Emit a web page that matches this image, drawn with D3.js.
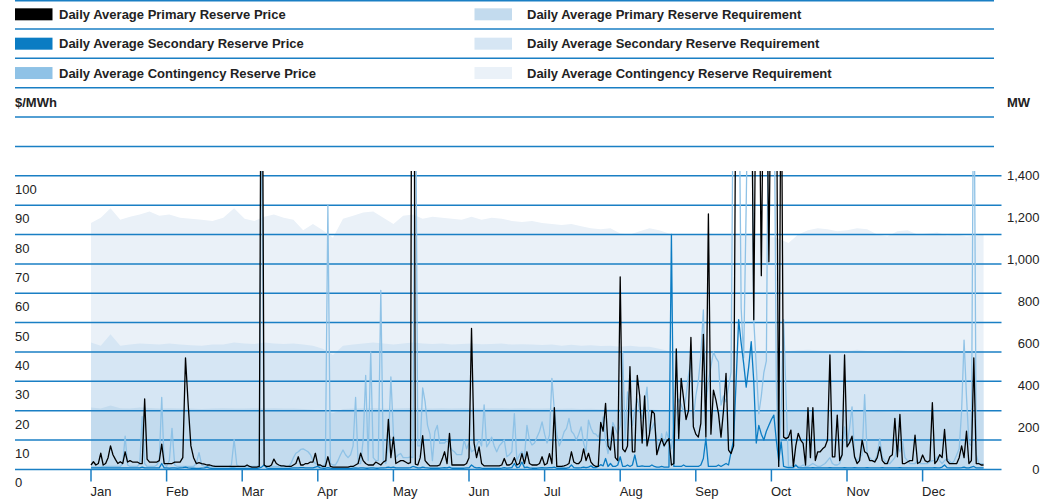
<!DOCTYPE html>
<html>
<head>
<meta charset="utf-8">
<script src="https://cdn.jsdelivr.net/npm/d3@7"></script>
<style>
  body { margin: 0; background: #fff; }
  svg text { font-family: "Liberation Sans", Arial, Helvetica, sans-serif; }
</style>
</head>
<body>
<svg id="chart" width="1062" height="502"></svg>
<script>
var blue = '#1a7fc4';
var black = '#000000';
var midblue = '#0b7cc3';
var lightblue = '#8fc2e6';
var reqDark = '#c3dbee';
var reqMid = '#d6e6f4';
var reqLight = '#eaf1f8';

var monthNames = ['Jan', 'Feb', 'Mar', 'Apr', 'May', 'Jun', 'Jul', 'Aug', 'Sep', 'Oct', 'Nov', 'Dec'];
var monthDays = [31, 28, 31, 30, 31, 30, 31, 31, 30, 31, 30, 31];
var priceTicks = [0, 10, 20, 30, 40, 50, 60, 70, 80, 90, 100];
var mwTicks = [0, 200, 400, 600, 800, 1000, 1200, 1400];

// daily prices, $/MWh, one row per month (Jan 1 - Dec 26)
var primaryPrice = [
  [1.5,2.6,1.5,2,5.5,1.5,2,4,8,5,3.4,2,2.6,2,6,2.5,3,2.5,2.5,2.5,2,2,24,3.5,2.5,2.5,2.5,2.5,3,8.6,2],
  [2,2,2,2.5,2.5,2.5,4,38,22,8,4,2,2.3,2,1.8,1.5,1.5,1.2,1,1,1,1,1,1,1,1,1,1],
  [1,1,1.5,1,0.8,0.8,0.8,1,200,1.5,1,1,1.5,3.5,2,1.5,1.2,1.2,1,1,1,1.5,2,4.3,1.5,1.5,2,2,2.5,2.5,5.5],
  [1.5,1.5,1,1,4.3,1,0.8,0.8,0.8,0.8,0.8,0.8,0.8,1,1,1.5,2,5.5,3,2,1.5,1.5,1.5,2.5,2,1.5,2.5,3,17,4],
  [11,2,2.5,3,3,2.5,2,2.3,300,1.8,1.5,4,11.5,3,2,1.2,1.2,1.2,1.2,1.5,3.5,6,2,12.3,1.5,1.5,1.5,1.5,1.5,1.5,2],
  [4,48,9,4,7.7,2,1.2,1.2,1.2,1.2,1.2,1.2,1.2,1.5,3.7,1.5,1.5,2,4,1.5,2,5.4,2,6,2,1.5,1.5,1.5,2,4.3],
  [1.5,2,5.4,2,21,1,1,1,1.2,1.5,2,6,2.5,2,2,3,7,3,5.5,2.5,1.5,1,1,16,13,22.5,8,6.6,14.5,4,3],
  [65.6,7,6,8,35,6,6,32,25,9,25,8,12,20,19,5,8,10.5,8,9.5,10.5,1.5,2,41,10.5,31,24,17,20,45,14.5],
  [12,11,15.7,46,11,87,12,27,23.6,19,11,20,32.7,6.6,5.4,8,150,150,150,150,150,150,150,51,150,150,66,150,150,70.7],
  [150,150,150,1,150,11,10.5,11,13.4,1,8,12.3,10,8.9,1.5,21,4,21,3,6,6,7,7.7,10,39,4.3,4.3,18.5,3,5,39],
  [7.7,9,11.3,4.3,2,3,10,6,5.4,3,3,2.5,4,7.7,3,2,2,4.3,5,17.4,4.3,18.7,2,2,2.5,3,3,11.7,2,2.5],
  [4.9,3,2.5,3,22.7,2,3,5,4,13.6,3,2,2,2,2,4,8,4,13,2,3,38,2,2,1.5,1.5]
];

var secondaryPrice = [
  [0.5,0.5,0.5,0.5,0.5,0.5,0.5,0.5,0.5,0.5,0.5,0.5,0.5,0.5,0.5,0.5,0.5,0.5,0.5,0.5,0.5,0.8,0.5,0.5,0.5,0.5,0.5,0.5,0.5,2,0.5],
  [0.5,0.4,0.5,0.5,0.4,0.5,0.6,0.8,0.5,0.4,0.4,0.3,0.3,0.4,0.5,0.8,0.4,0.3,0.3,0.3,0.3,0.3,0.3,0.3,0.4,0.4,0.3,0.3],
  [0.3,0.3,0.3,0.3,0.3,0.3,0.3,0.5,0.8,1.5,0.5,0.3,0.3,0.3,0.3,0.3,0.3,0.3,0.3,0.3,0.4,0.5,0.5,0.5,0.6,0.6,0.5,0.5,0.5,0.5,0.8],
  [1,0.5,0.4,0.4,0.6,0.4,0.3,0.3,0.3,0.3,0.3,0.3,0.3,0.3,0.4,0.5,0.4,0.5,0.5,0.4,0.4,0.5,0.5,0.4,0.4,0.5,0.5,0.6,0.8,0.6],
  [0.8,0.5,0.5,0.5,0.5,0.5,0.5,0.6,1,0.8,0.5,0.5,0.8,0.6,0.5,0.4,0.4,0.4,0.4,0.4,0.5,0.6,0.5,0.8,0.4,0.4,0.4,0.4,0.4,0.4,0.5],
  [0.5,1.5,0.8,0.5,0.6,0.4,0.3,0.3,0.3,0.3,0.3,0.3,0.3,0.4,0.6,0.4,0.5,0.6,2,0.6,0.8,2.5,0.6,0.8,0.5,0.4,0.4,0.4,0.5,0.6],
  [0.5,0.5,0.6,0.6,0.8,0.4,0.4,0.4,0.4,0.4,0.6,1.5,0.6,0.5,0.5,0.6,0.8,0.6,0.8,1.2,0.6,0.6,1,1.6,1.2,3.7,1,2,1,1,1.5],
  [4.3,1,1,1.5,1,1.5,4.9,1,1,1.2,1,1,1,1.5,1,0.8,0.8,1,0.8,0.8,0.8,80,1,1,1,1,1.5,1,1,1,1],
  [1,1,1.5,3.7,10.5,1,1,1,1,1.5,1,1.5,2,1.5,6,10,30,51,43,36,28,35,43.5,30,9,15,12,10,13,15],
  [17,18.5,10,3,9.4,1,0.8,0.6,0.6,0.6,1.5,0.6,0.5,0.5,0.5,0.5,0.5,0.6,0.5,0.5,0.5,0.5,0.5,0.5,0.6,0.5,0.5,0.5,0.5,0.5,0.6],
  [0.5,0.5,0.5,0.6,0.5,0.5,0.5,0.5,0.6,0.5,0.5,0.5,0.5,0.5,0.6,0.5,0.5,0.5,0.5,0.5,0.5,0.6,0.5,0.5,0.5,0.5,0.5,0.5,0.5,0.5],
  [0.5,0.5,0.5,0.5,0.5,0.6,0.5,0.5,0.8,1.5,0.6,0.5,0.5,0.5,0.5,0.5,0.6,0.8,0.5,0.5,0.8,1,0.5,0.5,0.5,0.5]
];

var contingencyPrice = [
  [0.8,0.8,0.8,0.8,0.8,1,1,1,1,1,1,1,1,2,11.3,1.5,1,1,1,1,2,18,2,1,1,1,1,1.5,3,24.5,2],
  [1,3,14,1.5,1,1,1,1,1,1,1,2,5.7,1.5,1,1,1,1,1,1,1,1,1,1,1.5,10.2,1.5,1],
  [1,1,1,1,1,1,1,1.5,130,1.5,1,1,1,1,1,1,1,1,1,1,2,4,5.5,6,6.8,7,6.5,6,5,3,2],
  [1.5,1,1,2,90,2,1.5,1.5,3,5,6.6,5,4,5,8,24.5,2,2,10,32,3,40,4,3,3,61,3,2,8,31.5],
  [12.3,4,5,5.4,4,4,4,4.3,4,150,8,8,27.8,23,15,12,3,12.8,15,8.9,9,9,10,8,6.6,6,5,5,5,10,7],
  [9,6,6.6,8,10,8,22,7.7,9,11,8,6,8,9,10,4.3,5,6,19,3,5,6,4,15,10,8.3,9,11,13,16.2],
  [12,9,11.7,31,20,12,8,10,12.8,14,17.4,13,12,10,12,14.5,9,6,16.8,14,12.3,12,11,13,17.9,10,5.4,10,16,14,12],
  [15,40,10.6,26.4,20,15,20,24,20,17.4,22,28,12.8,14,16,10,6.6,12.2,7.7,12.8,10,7,15,19.6,24,22,19.6,25,32,36.6,17.4],
  [25,30,38.9,54.3,21.9,30,35,40,38,36.6,21.9,25,23,28,33.2,150,150,150,55,38,90,150,150,51,35,19,25,33,37,150],
  [150,150,30,1,20,51,25,1,1,1.5,1,1,1,1.5,1,1,1.5,2,1.5,1,1,1.5,2,3,4,2,1.5,1.5,2,5,14.5],
  [8,14,21.3,4.3,3,4,5,25.5,5,4,3,3,5,10.5,4,3,2,2,3,4,8,6,10,4,3,2,2,2,3,2],
  [2,2,2,2.5,3,3,4.3,3,2,3,3.6,3,2,3,5,7,20,44,24.7,8.9,8,150,5,2,2,2]
];

// requirements, MW, read every 4 days (Jan 1, Jan 5, ... Dec 23, Dec 26)
var primaryReq = [
  295,290,305,292,290,295,293,290,
  292,290,290,288,290,292,290,
  290,292,290,291,290,290,288,285,
  280,268,288,290,292,293,290,
  290,292,293,291,290,292,290,291,
  292,290,291,292,290,291,290,
  290,291,289,290,288,289,287,288,
  288,290,288,287,283,278,275,273,
  272,274,272,271,273,272,271,
  270,272,274,273,275,274,273,274,
  275,273,272,274,273,272,271,272,
  273,272,271,272,270,272,
  272
];
var secondaryReq = [
  605,590,645,590,595,600,598,595,
  600,595,592,590,595,595,605,
  600,598,605,600,598,600,595,590,
  575,545,590,595,600,605,600,
  595,600,605,600,598,600,595,598,
  600,597,598,600,595,597,595,
  593,595,590,594,590,592,588,590,
  585,590,585,585,575,565,562,560,
  560,562,560,558,560,562,560,
  555,560,565,568,570,568,565,568,
  565,570,565,562,565,568,565,562,
  565,563,560,565,562,565,
  565
];
var contingencyReq = [
  1175,1200,1245,1190,1205,1215,1230,1210,
  1215,1200,1195,1190,1185,1200,1245,
  1195,1185,1205,1215,1200,1190,1140,1170,
  1140,1105,1195,1210,1225,1230,1200,
  1170,1210,1215,1195,1205,1200,1195,1190,
  1205,1190,1200,1195,1185,1180,1185,
  1175,1170,1165,1170,1160,1150,1145,1150,
  1125,1120,1135,1150,1140,1125,1120,1118,
  1120,1125,1120,1118,1115,1120,1125,
  1115,1100,1080,1120,1140,1150,1145,1135,
  1140,1150,1145,1120,1110,1135,1140,1120,
  1125,1130,1115,1120,1110,1115,
  1120
];

var legendLeft = [
  { label: 'Daily Average Primary Reserve Price', color: black },
  { label: 'Daily Average Secondary Reserve Price', color: midblue },
  { label: 'Daily Average Contingency Reserve Price', color: lightblue }
];
var legendRight = [
  { label: 'Daily Average Primary Reserve Requirement', color: reqDark },
  { label: 'Daily Average Secondary Reserve Requirement', color: reqMid },
  { label: 'Daily Average Contingency Reserve Requirement', color: reqLight }
];

/// helpers
function monthPos(day) {
  var m = 0;
  while (m < 11 && day >= monthDays[m]) { day -= monthDays[m]; m++; }
  return m + day / monthDays[m];
}

function daily(rows) {
  var pts = [];
  rows.forEach(function (vals, m) {
    vals.forEach(function (v, d) { pts.push({ pos: m + d / monthDays[m], v: v }); });
  });
  return pts;
}

function every4(vals) {
  return vals.map(function (v, i) {
    return { pos: monthPos(Math.min(i * 4, 359)), v: v };
  });
}

/// scales
var x = d3.scaleLinear().domain([0, 12]).range([91, 998.2]);
var yPrice = d3.scaleLinear().domain([0, 100]).range([469.4, 175.8]);
var yMW = d3.scaleLinear().domain([0, 1400]).range([469.4, 175.8]);

var gridLeft = 15, gridRight = 1001.5, legendEnd = 994;

var svg = d3.select('#chart');

svg.append('defs').append('clipPath').attr('id', 'plotclip')
  .append('rect').attr('x', 80).attr('y', 171).attr('width', 930).attr('height', 305);

/// requirement areas
var area = d3.area()
  .x(function (d) { return x(d.pos); })
  .y0(yMW(0))
  .y1(function (d) { return yMW(d.v); });

[[contingencyReq, reqLight], [secondaryReq, reqMid], [primaryReq, reqDark]].forEach(function (s) {
  svg.append('path')
    .datum(every4(s[0]))
    .attr('d', area)
    .attr('fill', s[1]);
});

/// rules
var ruleVals = d3.range(0, 160, 10);
svg.append('g').selectAll('line')
  .data(ruleVals)
  .join('line')
  .attr('x1', gridLeft)
  .attr('x2', function (v) { return v > 100 ? legendEnd : gridRight; })
  .attr('y1', function (v) { return yPrice(v); })
  .attr('y2', function (v) { return yPrice(v); })
  .attr('stroke', blue)
  .attr('stroke-width', 1.5);

svg.append('line')
  .attr('x1', gridLeft).attr('x2', legendEnd)
  .attr('y1', 0.75).attr('y2', 0.75)
  .attr('stroke', blue).attr('stroke-width', 1.5);

/// price lines
var line = d3.line()
  .x(function (d) { return x(d.pos); })
  .y(function (d) { return yPrice(d.v); });

var lines = svg.append('g').attr('clip-path', 'url(#plotclip)');
[[contingencyPrice, lightblue], [secondaryPrice, midblue], [primaryPrice, black]].forEach(function (s) {
  lines.append('path')
    .datum(daily(s[0]))
    .attr('d', line)
    .attr('fill', 'none')
    .attr('stroke', s[1])
    .attr('stroke-width', 1.3)
    .attr('stroke-linejoin', 'round');
});

/// axes text
svg.append('g').selectAll('text')
  .data(priceTicks)
  .join('text')
  .attr('x', gridLeft)
  .attr('y', function (v) { return yPrice(v) + 18; })
  .attr('font-size', '13px')
  .attr('fill', '#222')
  .text(function (v) { return v; });

svg.append('g').selectAll('text')
  .data(mwTicks)
  .join('text')
  .attr('x', 1039.5)
  .attr('y', function (v) { return yMW(v) + 4.6; })
  .attr('text-anchor', 'end')
  .attr('font-size', '13px')
  .attr('fill', '#222')
  .text(function (v) { return d3.format(',')(v); });

svg.append('text')
  .attr('x', gridLeft).attr('y', yPrice(125) + 4.7)
  .attr('font-size', '13px').attr('font-weight', 'bold').attr('fill', '#222')
  .text('$/MWh');

svg.append('text')
  .attr('x', 1007).attr('y', yPrice(125) + 4.7)
  .attr('font-size', '13px').attr('font-weight', 'bold').attr('fill', '#222')
  .text('MW');

/// month ticks
var months = svg.append('g').selectAll('g')
  .data(monthNames)
  .join('g')
  .attr('transform', function (d, i) { return 'translate(' + x(i) + ',0)'; });

months.append('line')
  .attr('y1', yPrice(0)).attr('y2', 481.5)
  .attr('stroke', blue).attr('stroke-width', 1.5);

months.append('text')
  .attr('x', -0.5).attr('y', 496)
  .attr('font-size', '13px').attr('fill', '#222')
  .text(function (d) { return d; });

/// legend
function legendCol(items, sx, tx) {
  var g = svg.append('g').selectAll('g')
    .data(items)
    .join('g')
    .attr('transform', function (d, i) { return 'translate(0,' + yPrice(155 - i * 10) + ')'; });
  g.append('rect')
    .attr('x', sx).attr('y', -6).attr('width', 37.5).attr('height', 12)
    .attr('fill', function (d) { return d.color; });
  g.append('text')
    .attr('x', tx).attr('y', 4.6)
    .attr('font-size', '13px').attr('font-weight', 'bold').attr('fill', '#222')
    .text(function (d) { return d.label; });
}
legendCol(legendLeft, 15, 59);
legendCol(legendRight, 474.5, 527);
</script>
</body>
</html>
